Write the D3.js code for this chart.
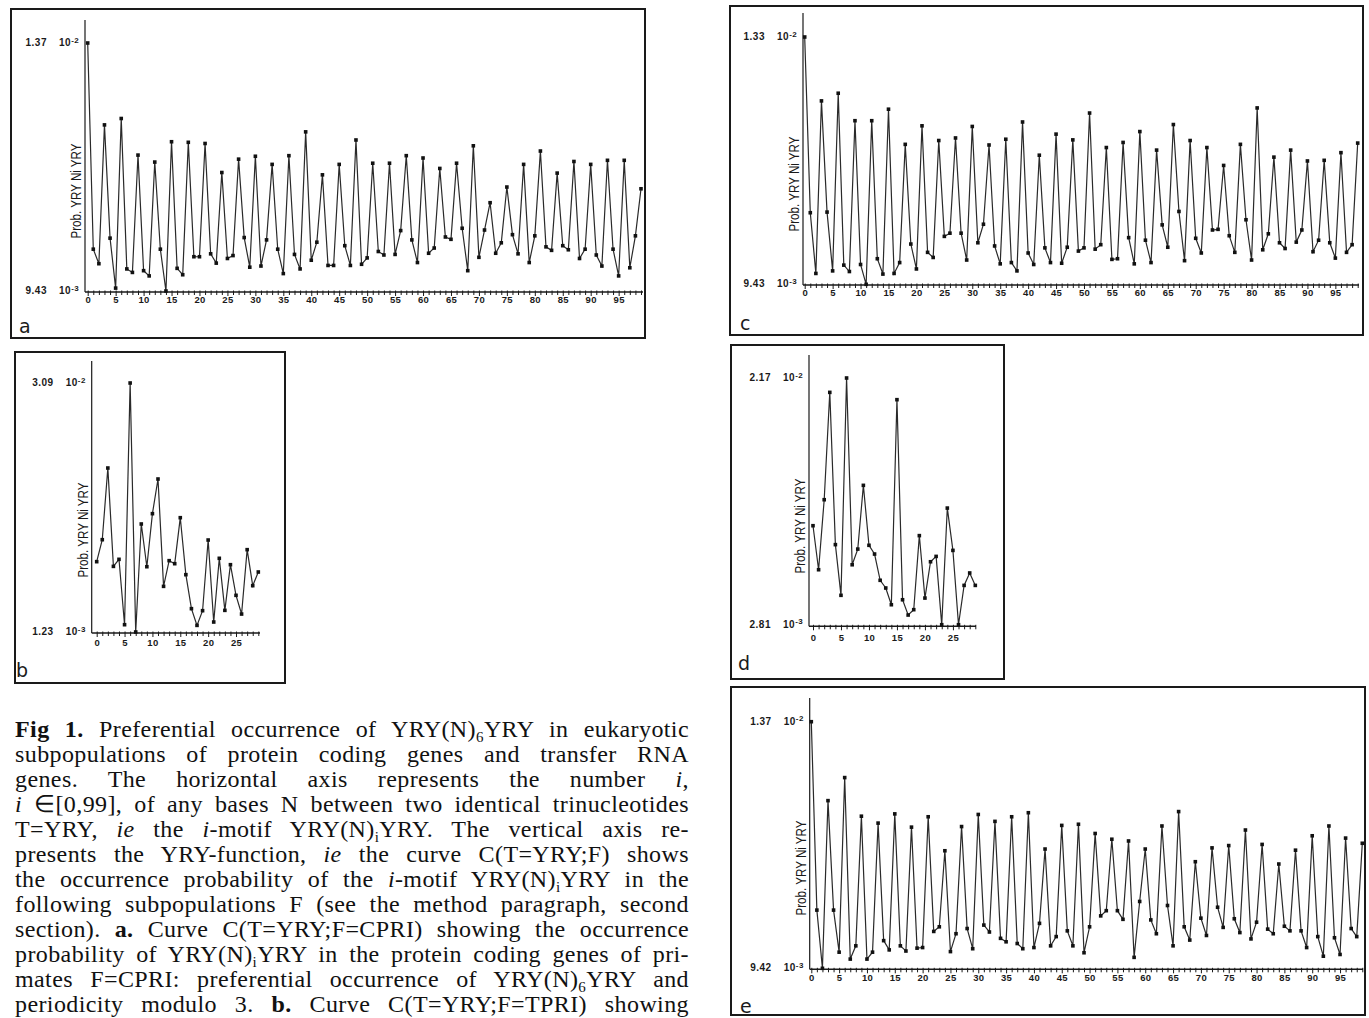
<!DOCTYPE html>
<html>
<head>
<meta charset="utf-8">
<script src="https://cdn.jsdelivr.net/npm/d3@7"></script>
<style>
  body { margin: 0; background: #fff; }
  svg { display: block; }
</style>
</head>
<body>
<script>
// values are probabilities in units of 1e-3, i = 0..n-1
var probA = [13.70,10.15,9.90,12.29,10.34,9.48,12.40,9.81,9.75,11.77,
  9.78,9.69,11.65,10.15,9.43,12.00,9.82,9.71,11.99,10.02,
  10.02,11.97,10.07,9.91,11.47,9.99,10.04,11.70,10.35,9.84,
  11.75,9.86,10.31,11.61,10.15,9.73,11.76,10.06,9.81,12.17,
  9.96,10.27,11.43,9.87,9.87,11.61,10.21,9.87,12.03,9.89,
  10.00,11.63,10.11,10.05,11.63,10.06,10.47,11.76,10.31,9.92,
  11.72,10.08,10.17,11.54,10.36,10.32,11.63,10.51,9.78,11.93,
  10.01,10.48,10.95,10.08,10.26,11.22,10.40,10.07,11.61,9.92,
  10.38,11.84,10.19,10.13,11.46,10.21,10.14,11.66,9.99,10.15,
  11.61,10.05,9.86,11.68,10.15,9.69,11.68,9.83,10.38,11.19];

var probB = [9.61,12.23,20.77,9.05,9.89,2.10,30.90,1.23,14.10,9.01,
  15.33,19.46,6.67,9.73,9.37,14.85,8.06,4.01,2.02,3.77,
  12.19,2.42,10.01,3.81,9.25,5.60,3.37,11.04,6.75,8.38];

var probC = [13.30,10.55,9.60,12.30,10.56,9.64,12.42,9.73,9.63,11.99,
  9.74,9.43,11.99,9.83,9.59,12.17,9.60,9.77,11.62,10.06,
  9.67,11.91,9.93,9.85,11.68,10.18,10.23,11.72,10.23,9.81,
  11.90,10.08,10.37,11.61,10.03,9.75,11.70,9.77,9.64,11.97,
  9.92,9.74,11.45,10.00,9.77,11.78,9.76,10.01,11.69,9.95,
  10.00,12.11,9.98,10.05,11.57,9.82,9.83,11.65,10.16,9.75,
  11.82,10.12,9.77,11.53,10.36,10.01,11.93,10.57,9.80,11.68,
  10.15,9.92,11.57,10.28,10.29,11.29,10.19,9.93,11.62,10.44,
  9.81,12.19,9.97,10.22,11.42,10.08,9.99,11.53,10.09,10.28,
  11.36,9.94,10.12,11.37,10.08,9.84,11.49,9.93,10.05,11.64];

var probD = [10.39,7.02,12.38,20.60,8.94,5.06,21.70,7.40,8.60,13.48,
  8.89,8.22,6.21,5.62,4.34,20.04,4.72,3.55,3.96,9.63,
  4.85,7.63,8.04,2.81,11.74,8.50,2.81,5.82,6.77,5.82];

var probE = [13.70,10.43,9.42,12.33,10.43,9.70,12.73,9.58,9.81,12.06,
  9.58,9.70,11.94,9.90,9.74,12.10,9.81,9.72,11.87,9.77,
  9.78,12.05,10.06,10.14,11.46,9.71,10.02,11.88,10.11,9.76,
  12.09,10.17,10.05,11.97,9.94,9.88,12.05,9.85,9.76,12.12,
  9.78,10.20,11.49,9.81,9.97,11.90,10.07,9.81,11.92,9.69,
  10.14,11.76,10.33,10.42,11.66,10.42,10.27,11.63,9.61,10.58,
  11.49,10.26,10.02,11.89,10.51,9.81,12.14,10.14,9.91,11.27,
  10.29,9.99,11.51,10.48,10.13,11.55,10.28,10.04,11.82,9.93,
  10.22,11.57,10.10,10.02,11.23,10.15,10.07,11.47,10.07,9.78,
  11.72,9.97,9.63,11.89,9.95,9.66,11.68,10.11,9.97,11.59];

// y labels: [top (max), bottom (min)] as [mantissa, exponent]
var labelsA = [["1.37","-2"],["9.43","-3"]];
var labelsB = [["3.09","-2"],["1.23","-3"]];
var labelsC = [["1.33","-2"],["9.43","-3"]];
var labelsD = [["2.17","-2"],["2.81","-3"]];
var labelsE = [["1.37","-2"],["9.42","-3"]];

var yTitle = "Prob. YRY Ni YRY";
var panelLetters = ["a","b","c","d","e"];

var captionLines = [
  [["Fig 1.","b"],[" Preferential occurrence of YRY(N)",""],["6","sub"],["YRY in eukaryotic",""]],
  [["subpopulations of protein coding genes and transfer RNA",""]],
  [["genes. The horizontal axis represents the number ",""],["i","i"],[",",""]],
  [["i","i"],[" \u2208[0,99], of any bases N between two identical trinucleotides",""]],
  [["T=YRY, ",""],["ie","i"],[" the ",""],["i","i"],["-motif YRY(N)",""],["i","sub"],["YRY. The vertical axis re-",""]],
  [["presents the YRY-function, ",""],["ie","i"],[" the curve C(T=YRY;F) shows",""]],
  [["the occurrence probability of the ",""],["i","i"],["-motif YRY(N)",""],["i","sub"],["YRY in the",""]],
  [["following subpopulations F (see the method paragraph, second",""]],
  [["section). ",""],["a.","b"],[" Curve C(T=YRY;F=CPRI) showing the occurrence",""]],
  [["probability of YRY(N)",""],["i","sub"],["YRY in the protein coding genes of pri-",""]],
  [["mates F=CPRI: preferential occurrence of YRY(N)",""],["6","sub"],["YRY and",""]],
  [["periodicity modulo 3. ",""],["b.","b"],[" Curve C(T=YRY;F=TPRI) showing",""]]
];

var W = 1369, H = 1018;
var svg = d3.select("body").append("svg").attr("width", W).attr("height", H);

var panels = [
  {data: probA, labels: labelsA, frame: [11, 9, 634, 329], axisX: 85, x0: 87.7, x1: 641, yMin: 291, yMax: 43,
   axisTop: 20, axisY: 292, xEnd: 643, tickDy: 8, titleY: 191, letter: [19, 333]},
  {data: probB, labels: labelsB, frame: [15, 352, 270, 331], axisX: 91.7, x0: 96.7, x1: 258.3, yMin: 632, yMax: 383,
   axisTop: 361, axisY: 633, xEnd: 260, tickDy: 10, titleY: 530, letter: [16, 677]},
  {data: probC, labels: labelsC, frame: [730, 6, 633, 329], axisX: 803, x0: 804.7, x1: 1357.7, yMin: 284.3, yMax: 37,
   axisTop: 13, axisY: 285, xEnd: 1359, tickDy: 7.5, titleY: 184, letter: [740, 330]},
  {data: probD, labels: labelsD, frame: [731, 345, 273, 334], axisX: 809, x0: 813, x1: 975.3, yMin: 624.7, yMax: 378,
   axisTop: 355, axisY: 626.3, xEnd: 976, tickDy: 11.5, titleY: 526, letter: [738, 670]},
  {data: probE, labels: labelsE, frame: [731, 687, 634, 328], axisX: 809.7, x0: 811.3, x1: 1362.3, yMin: 968.3, yMax: 721.7,
   axisTop: 698, axisY: 969.3, xEnd: 1363, tickDy: 8, titleY: 868, letter: [740, 1013]}
];

var sans = "'Liberation Sans', Arial, Helvetica, sans-serif";
var ink = "#1a1a1a";

panels.forEach(function(p, k) {
  var g = svg.append("g");

  g.append("rect")
    .attr("x", p.frame[0]).attr("y", p.frame[1])
    .attr("width", p.frame[2]).attr("height", p.frame[3])
    .attr("fill", "none").attr("stroke", ink).attr("stroke-width", 2);

  var x = d3.scaleLinear().domain([0, p.data.length - 1]).range([p.x0, p.x1]);
  var y = d3.scaleLinear().domain(d3.extent(p.data)).range([p.yMin, p.yMax]);

  // y axis line
  g.append("line")
    .attr("x1", p.axisX).attr("x2", p.axisX)
    .attr("y1", p.axisTop).attr("y2", p.axisY)
    .attr("stroke", ink).attr("stroke-width", 1.2);

  // x axis line + ticks
  g.append("line")
    .attr("x1", p.axisX).attr("x2", p.xEnd)
    .attr("y1", p.axisY).attr("y2", p.axisY)
    .attr("stroke", ink).attr("stroke-width", 1.4);

  var xAxis = d3.axisBottom(x)
    .tickValues(d3.range(p.data.length))
    .tickSizeOuter(0)
    .tickFormat(function(d) { return d % 5 === 0 ? d : ""; });

  var ax = g.append("g")
    .attr("transform", "translate(0," + p.axisY + ")")
    .call(xAxis);
  ax.select(".domain").remove();
  ax.selectAll(".tick line")
    .attr("y1", -1.5)
    .attr("y2", function(d) { return d % 5 === 0 ? 4 : 3; })
    .attr("stroke", ink).attr("stroke-width", 1);
  ax.selectAll(".tick text")
    .attr("y", p.tickDy).attr("dy", "0.35em")
    .attr("fill", ink)
    .style("font-family", sans).style("font-size", "9.5px").style("font-weight", "bold")
    .style("letter-spacing", "0.3px");

  // y labels at min and max
  var ext = [d3.max(p.data), d3.min(p.data)];
  p.labels.forEach(function(lab, j) {
    var yy = y(ext[j]) + 3;
    g.append("text")
      .attr("x", p.axisX - 38).attr("y", yy)
      .attr("text-anchor", "end")
      .attr("fill", ink)
      .style("font-family", sans).style("font-size", "10px").style("font-weight", "bold")
      .style("letter-spacing", "0.5px")
      .text(lab[0]);
    var t = g.append("text")
      .attr("x", p.axisX - 26).attr("y", yy)
      .attr("fill", ink)
      .style("font-family", sans).style("font-size", "10px").style("font-weight", "bold")
      .style("letter-spacing", "0.5px");
    t.append("tspan").text("10");
    t.append("tspan").attr("dy", -3.5).style("font-size", "8px").text(lab[1]);
  });

  // y title
  g.append("text")
    .attr("transform", "translate(" + (p.axisX - 4) + "," + p.titleY + ") rotate(-90)")
    .attr("text-anchor", "middle")
    .attr("textLength", 95).attr("lengthAdjust", "spacingAndGlyphs")
    .attr("fill", ink)
    .style("font-family", sans).style("font-size", "14.5px")
    .text(yTitle);

  // line + markers
  var line = d3.line()
    .x(function(d, i) { return x(i); })
    .y(function(d) { return y(d); });

  g.append("path")
    .datum(p.data)
    .attr("d", line)
    .attr("fill", "none").attr("stroke", "#2a2a2a").attr("stroke-width", 1.2);

  g.selectAll("rect.pt")
    .data(p.data)
    .enter()
    .append("rect")
    .attr("class", "pt")
    .attr("x", function(d, i) { return x(i) - 1.8; })
    .attr("y", function(d) { return y(d) - 1.8; })
    .attr("width", 3.6).attr("height", 3.6)
    .attr("fill", "#111");

  // panel letter
  g.append("text")
    .attr("x", p.letter[0]).attr("y", p.letter[1])
    .attr("fill", ink)
    .style("font-family", "'DejaVu Sans', sans-serif").style("font-size", "19px")
    .text(panelLetters[k]);
});

// caption, justified line by line
var capLeft = 15, capRight = 689;
captionLines.forEach(function(segs, k) {
  var t = svg.append("text")
    .attr("x", capLeft).attr("y", 737 + k * 25)
    .attr("fill", "#111")
    .style("font-family", "'Liberation Serif', 'Times New Roman', serif")
    .style("font-size", "24px")
    .style("letter-spacing", "0.4px");
  var shift = 0, all = "";
  segs.forEach(function(s) {
    var ts = t.append("tspan").text(s[0]);
    all += s[0];
    if (s[1] === "b") ts.style("font-weight", "bold");
    if (s[1] === "i") ts.style("font-style", "italic");
    if (s[1] === "sub") {
      ts.attr("dy", 5 - shift).style("font-size", "15px");
      shift = 5;
    } else if (shift !== 0) {
      ts.attr("dy", -shift);
      shift = 0;
    }
  });
  var natural = t.node().getComputedTextLength();
  var spaces = (all.match(/ /g) || []).length;
  if (spaces > 0) t.style("word-spacing", ((capRight - capLeft - natural) / spaces) + "px");
});
</script>
</body>
</html>
